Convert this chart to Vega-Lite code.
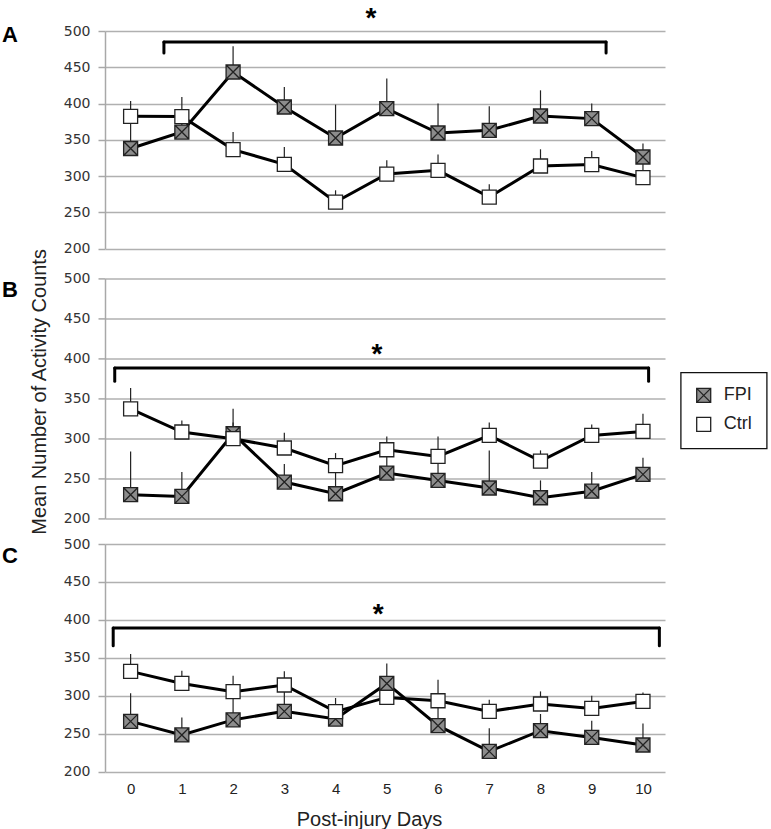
{
  "$schema": "https://vega.github.io/schema/vega-lite/v6.json",
  "padding": {"left": 2, "top": 4, "right": 0, "bottom": 0},
  "bounds": "flush",
  "spacing": 29.4,
  "background": "white",
  "config": {
    "view": {"stroke": null},
    "font": "Liberation Sans",
    "axisY": {"domainColor": "#a8a8a8", "domainWidth": 1.5, "gridColor": "#b0b0b0", "gridWidth": 1.5, "tickColor": "#a8a8a8", "tickWidth": 1.5, "tickSize": 7, "labelPadding": 8, "labelFont": "DejaVu Sans", "labelFontSize": 14, "labelColor": "#333", "tickCount": 7, "titleFont": "Liberation Sans", "titleFontSize": 20, "titleFontWeight": "normal", "titleColor": "#222", "titlePadding": 14},
    "axisX": {"ticks": false, "tickSize": 0, "domain": false, "grid": false, "labelFont": "Liberation Sans", "labelFontSize": 15, "labelColor": "#222", "labelPadding": 10, "titleFont": "Liberation Sans", "titleFontSize": 20, "titleFontWeight": "normal", "titleColor": "#222"},
    "legend": {"orient": "none", "legendX": 575.7, "legendY": 94, "strokeColor": "#111", "strokeWidth": 1.3, "fillColor": "white", "padding": 14, "labelFont": "Liberation Sans", "labelFontSize": 18, "labelColor": "#222", "symbolSize": 196, "symbolStrokeWidth": 1.3, "rowPadding": 9, "labelOffset": 11}
  },
  "datasets": {
    "series": [
      {"panel": "A", "group": "FPI", "day": 0, "mean": 338, "upper": 378},
      {"panel": "A", "group": "FPI", "day": 1, "mean": 360.7, "upper": 385},
      {"panel": "A", "group": "FPI", "day": 2, "mean": 443.5, "upper": 478.9},
      {"panel": "A", "group": "FPI", "day": 3, "mean": 395.2, "upper": 422.8},
      {"panel": "A", "group": "FPI", "day": 4, "mean": 352.5, "upper": 398.5},
      {"panel": "A", "group": "FPI", "day": 5, "mean": 393, "upper": 434.4},
      {"panel": "A", "group": "FPI", "day": 6, "mean": 359.4, "upper": 399.9},
      {"panel": "A", "group": "FPI", "day": 7, "mean": 363.1, "upper": 396.2},
      {"panel": "A", "group": "FPI", "day": 8, "mean": 382.8, "upper": 418.2},
      {"panel": "A", "group": "FPI", "day": 9, "mean": 379.2, "upper": 399.9},
      {"panel": "A", "group": "FPI", "day": 10, "mean": 326.3, "upper": 344.8},
      {"panel": "A", "group": "Ctrl", "day": 0, "mean": 382.4, "upper": 403.5},
      {"panel": "A", "group": "Ctrl", "day": 1, "mean": 382, "upper": 409},
      {"panel": "A", "group": "Ctrl", "day": 2, "mean": 336.5, "upper": 360.7},
      {"panel": "A", "group": "Ctrl", "day": 3, "mean": 316.2, "upper": 340.1},
      {"panel": "A", "group": "Ctrl", "day": 4, "mean": 264.2, "upper": 280.4},
      {"panel": "A", "group": "Ctrl", "day": 5, "mean": 302.8, "upper": 321.7},
      {"panel": "A", "group": "Ctrl", "day": 6, "mean": 307.9, "upper": 329.6},
      {"panel": "A", "group": "Ctrl", "day": 7, "mean": 271.1, "upper": 288.6},
      {"panel": "A", "group": "Ctrl", "day": 8, "mean": 313.9, "upper": 336.9},
      {"panel": "A", "group": "Ctrl", "day": 9, "mean": 315.8, "upper": 334.6},
      {"panel": "A", "group": "Ctrl", "day": 10, "mean": 297.9, "upper": 318},
      {"panel": "B", "group": "FPI", "day": 0, "mean": 229.6, "upper": 283.7},
      {"panel": "B", "group": "FPI", "day": 1, "mean": 227.5, "upper": 258},
      {"panel": "B", "group": "FPI", "day": 2, "mean": 305.8, "upper": 337},
      {"panel": "B", "group": "FPI", "day": 3, "mean": 245.4, "upper": 268},
      {"panel": "B", "group": "FPI", "day": 4, "mean": 230.8, "upper": 262},
      {"panel": "B", "group": "FPI", "day": 5, "mean": 256.7, "upper": 277},
      {"panel": "B", "group": "FPI", "day": 6, "mean": 247.5, "upper": 272},
      {"panel": "B", "group": "FPI", "day": 7, "mean": 238, "upper": 285},
      {"panel": "B", "group": "FPI", "day": 8, "mean": 225.8, "upper": 247.5},
      {"panel": "B", "group": "FPI", "day": 9, "mean": 234, "upper": 258},
      {"panel": "B", "group": "FPI", "day": 10, "mean": 255, "upper": 275.8},
      {"panel": "B", "group": "Ctrl", "day": 0, "mean": 337, "upper": 362.9},
      {"panel": "B", "group": "Ctrl", "day": 1, "mean": 308, "upper": 322.5},
      {"panel": "B", "group": "Ctrl", "day": 2, "mean": 299.6, "upper": 320},
      {"panel": "B", "group": "Ctrl", "day": 3, "mean": 288, "upper": 307},
      {"panel": "B", "group": "Ctrl", "day": 4, "mean": 266, "upper": 281.7},
      {"panel": "B", "group": "Ctrl", "day": 5, "mean": 285.8, "upper": 302.5},
      {"panel": "B", "group": "Ctrl", "day": 6, "mean": 277.5, "upper": 302.5},
      {"panel": "B", "group": "Ctrl", "day": 7, "mean": 303.7, "upper": 320},
      {"panel": "B", "group": "Ctrl", "day": 8, "mean": 271.7, "upper": 285},
      {"panel": "B", "group": "Ctrl", "day": 9, "mean": 303.7, "upper": 317.5},
      {"panel": "B", "group": "Ctrl", "day": 10, "mean": 308.7, "upper": 330.8},
      {"panel": "C", "group": "FPI", "day": 0, "mean": 266.3, "upper": 303.2},
      {"panel": "C", "group": "FPI", "day": 1, "mean": 248.4, "upper": 271.5},
      {"panel": "C", "group": "FPI", "day": 2, "mean": 268.3, "upper": 300},
      {"panel": "C", "group": "FPI", "day": 3, "mean": 279.5, "upper": 305},
      {"panel": "C", "group": "FPI", "day": 4, "mean": 269.4, "upper": 282},
      {"panel": "C", "group": "FPI", "day": 5, "mean": 316.3, "upper": 342.7},
      {"panel": "C", "group": "FPI", "day": 6, "mean": 260.6, "upper": 290},
      {"panel": "C", "group": "FPI", "day": 7, "mean": 226.8, "upper": 257.1},
      {"panel": "C", "group": "FPI", "day": 8, "mean": 254, "upper": 276},
      {"panel": "C", "group": "FPI", "day": 9, "mean": 245.2, "upper": 267.2},
      {"panel": "C", "group": "FPI", "day": 10, "mean": 235.2, "upper": 263.6},
      {"panel": "C", "group": "Ctrl", "day": 0, "mean": 332.2, "upper": 355.1},
      {"panel": "C", "group": "Ctrl", "day": 1, "mean": 316.3, "upper": 333.1},
      {"panel": "C", "group": "Ctrl", "day": 2, "mean": 305.4, "upper": 326.5},
      {"panel": "C", "group": "Ctrl", "day": 3, "mean": 314.2, "upper": 332.2},
      {"panel": "C", "group": "Ctrl", "day": 4, "mean": 279.1, "upper": 297.1},
      {"panel": "C", "group": "Ctrl", "day": 5, "mean": 297.9, "upper": 310},
      {"panel": "C", "group": "Ctrl", "day": 6, "mean": 293.5, "upper": 321.2},
      {"panel": "C", "group": "Ctrl", "day": 7, "mean": 279.5, "upper": 294.9},
      {"panel": "C", "group": "Ctrl", "day": 8, "mean": 289.2, "upper": 305.8},
      {"panel": "C", "group": "Ctrl", "day": 9, "mean": 283.4, "upper": 300.1},
      {"panel": "C", "group": "Ctrl", "day": 10, "mean": 292.6, "upper": 304.5}
    ],
    "brackets": [
      {"panel": "A", "start": 0.65, "end": 9.28, "level": 484.8, "foot": 469.5},
      {"panel": "B", "start": -0.31, "end": 10.11, "level": 388, "foot": 371.5},
      {"panel": "C", "start": -0.34, "end": 10.32, "level": 389.3, "foot": 366}
    ],
    "stars": [
      {"panel": "A", "day": 4.69, "level": 506, "label": "*"},
      {"panel": "B", "day": 4.81, "level": 394.4, "label": "*"},
      {"panel": "C", "day": 4.83, "level": 396, "label": "*"}
    ]
  },
  "resolve": {"scale": {"fill": "independent", "shape": "independent", "stroke": "independent"}},
  "vconcat": [
    {
      "width": 560, "height": 217.6,
      "layer": [
        {"data": {"name": "series"}, "transform": [{"filter": "datum.panel === 'A'"}],
         "mark": {"type": "rule", "color": "#222", "strokeWidth": 1.2},
         "encoding": {
           "x": {"field": "day", "type": "quantitative", "scale": {"domain": [-0.5, 10.43], "nice": false, "zero": false}, "axis": null},
           "y": {"field": "mean", "type": "quantitative", "scale": {"domain": [200, 500], "nice": false, "zero": false}, "axis": {"title": null}},
           "y2": {"field": "upper"}, "detail": {"field": "group"}}},
        {"data": {"name": "series"}, "transform": [{"filter": "datum.panel === 'A'"}],
         "mark": {"type": "line", "color": "black", "strokeWidth": 3},
         "encoding": {
           "x": {"field": "day", "type": "quantitative", "axis": null},
           "y": {"field": "mean", "type": "quantitative", "axis": {"title": null}},
           "detail": {"field": "group"}, "order": {"field": "day"}}},
        {"data": {"name": "series"}, "transform": [{"filter": "datum.panel === 'A'"}],
         "mark": {"type": "point", "filled": false, "strokeWidth": 1.3, "opacity": 1, "size": 196},
         "encoding": {
           "x": {"field": "day", "type": "quantitative", "axis": null},
           "y": {"field": "mean", "type": "quantitative", "axis": {"title": null}},
           "shape": {"field": "group", "type": "nominal", "scale": {"domain": ["FPI", "Ctrl"], "range": ["M-1,-1H1V1H-1Z M-1,-1L1,1 M1,-1L-1,1", "square"]}, "legend": null},
           "fill": {"field": "group", "type": "nominal", "scale": {"domain": ["FPI", "Ctrl"], "range": ["#8c8c8c", "white"]}, "legend": null},
           "stroke": {"field": "group", "type": "nominal", "scale": {"domain": ["FPI", "Ctrl"], "range": ["#222", "#222"]}, "legend": null}}},
        {"data": {"name": "brackets"}, "transform": [{"filter": "datum.panel === 'A'"}],
         "mark": {"type": "rule", "color": "black", "strokeWidth": 3, "strokeCap": "round"},
         "encoding": {"x": {"field": "start", "type": "quantitative", "axis": null}, "x2": {"field": "end"}, "y": {"field": "level", "type": "quantitative", "axis": {"title": null}}}},
        {"data": {"name": "brackets"}, "transform": [{"filter": "datum.panel === 'A'"}],
         "mark": {"type": "rule", "color": "black", "strokeWidth": 3, "strokeCap": "round"},
         "encoding": {"x": {"field": "start", "type": "quantitative", "axis": null}, "y": {"field": "level", "type": "quantitative", "axis": {"title": null}}, "y2": {"field": "foot"}}},
        {"data": {"name": "brackets"}, "transform": [{"filter": "datum.panel === 'A'"}],
         "mark": {"type": "rule", "color": "black", "strokeWidth": 3, "strokeCap": "round"},
         "encoding": {"x": {"field": "end", "type": "quantitative", "axis": null}, "y": {"field": "level", "type": "quantitative", "axis": {"title": null}}, "y2": {"field": "foot"}}},
        {"data": {"name": "stars"}, "transform": [{"filter": "datum.panel === 'A'"}],
         "mark": {"type": "text", "font": "Liberation Sans", "fontSize": 28, "fontWeight": "bold", "align": "center", "baseline": "alphabetic", "color": "black"},
         "encoding": {"x": {"field": "day", "type": "quantitative", "axis": null}, "y": {"field": "level", "type": "quantitative", "axis": {"title": null}}, "text": {"field": "label"}}},
        {"data": {"values": [{"letter": "A"}]},
         "mark": {"type": "text", "font": "Liberation Sans", "fontSize": 22, "fontWeight": "bold", "align": "left", "baseline": "alphabetic", "color": "black"},
         "encoding": {"x": {"datum": -2.51, "type": "quantitative", "axis": null}, "y": {"datum": 484.4, "type": "quantitative", "axis": {"title": null}}, "text": {"field": "letter"}}}
      ]
    },
    {
      "bounds": "flush",
      "spacing": 25.6,
      "resolve": {"scale": {"fill": "independent", "shape": "independent", "stroke": "independent"}},
      "vconcat": [
        {
          "width": 560, "height": 240,
          "layer": [
            {"data": {"name": "series"}, "transform": [{"filter": "datum.panel === 'B'"}],
             "mark": {"type": "rule", "color": "#222", "strokeWidth": 1.2},
             "encoding": {
               "x": {"field": "day", "type": "quantitative", "scale": {"domain": [-0.5, 10.43], "nice": false, "zero": false}, "axis": null},
               "y": {"field": "mean", "type": "quantitative", "scale": {"domain": [200, 500], "nice": false, "zero": false}, "axis": {"title": "Mean Number of Activity Counts", "titleY": 113}},
               "y2": {"field": "upper"}, "detail": {"field": "group"}}},
            {"data": {"name": "series"}, "transform": [{"filter": "datum.panel === 'B'"}],
             "mark": {"type": "line", "color": "black", "strokeWidth": 3},
             "encoding": {
               "x": {"field": "day", "type": "quantitative", "axis": null},
               "y": {"field": "mean", "type": "quantitative", "axis": {"title": "Mean Number of Activity Counts", "titleY": 113}},
               "detail": {"field": "group"}, "order": {"field": "day"}}},
            {"data": {"name": "series"}, "transform": [{"filter": "datum.panel === 'B'"}],
             "mark": {"type": "point", "filled": false, "strokeWidth": 1.3, "opacity": 1, "size": 196},
             "encoding": {
               "x": {"field": "day", "type": "quantitative", "axis": null},
               "y": {"field": "mean", "type": "quantitative", "axis": {"title": "Mean Number of Activity Counts", "titleY": 113}},
               "shape": {"field": "group", "type": "nominal", "scale": {"domain": ["FPI", "Ctrl"], "range": ["M-1,-1H1V1H-1Z M-1,-1L1,1 M1,-1L-1,1", "square"]}, "legend": {"title": null}},
               "fill": {"field": "group", "type": "nominal", "scale": {"domain": ["FPI", "Ctrl"], "range": ["#8c8c8c", "white"]}, "legend": {"title": null}},
               "stroke": {"field": "group", "type": "nominal", "scale": {"domain": ["FPI", "Ctrl"], "range": ["#222", "#222"]}, "legend": {"title": null}}}},
            {"data": {"name": "brackets"}, "transform": [{"filter": "datum.panel === 'B'"}],
             "mark": {"type": "rule", "color": "black", "strokeWidth": 3, "strokeCap": "round"},
             "encoding": {"x": {"field": "start", "type": "quantitative", "axis": null}, "x2": {"field": "end"}, "y": {"field": "level", "type": "quantitative", "axis": {"title": "Mean Number of Activity Counts", "titleY": 113}}}},
            {"data": {"name": "brackets"}, "transform": [{"filter": "datum.panel === 'B'"}],
             "mark": {"type": "rule", "color": "black", "strokeWidth": 3, "strokeCap": "round"},
             "encoding": {"x": {"field": "start", "type": "quantitative", "axis": null}, "y": {"field": "level", "type": "quantitative", "axis": {"title": "Mean Number of Activity Counts", "titleY": 113}}, "y2": {"field": "foot"}}},
            {"data": {"name": "brackets"}, "transform": [{"filter": "datum.panel === 'B'"}],
             "mark": {"type": "rule", "color": "black", "strokeWidth": 3, "strokeCap": "round"},
             "encoding": {"x": {"field": "end", "type": "quantitative", "axis": null}, "y": {"field": "level", "type": "quantitative", "axis": {"title": "Mean Number of Activity Counts", "titleY": 113}}, "y2": {"field": "foot"}}},
            {"data": {"name": "stars"}, "transform": [{"filter": "datum.panel === 'B'"}],
             "mark": {"type": "text", "font": "Liberation Sans", "fontSize": 28, "fontWeight": "bold", "align": "center", "baseline": "alphabetic", "color": "black"},
             "encoding": {"x": {"field": "day", "type": "quantitative", "axis": null}, "y": {"field": "level", "type": "quantitative", "axis": {"title": "Mean Number of Activity Counts", "titleY": 113}}, "text": {"field": "label"}}},
            {"data": {"values": [{"letter": "B"}]},
             "mark": {"type": "text", "font": "Liberation Sans", "fontSize": 22, "fontWeight": "bold", "align": "left", "baseline": "alphabetic", "color": "black"},
             "encoding": {"x": {"datum": -2.51, "type": "quantitative", "axis": null}, "y": {"datum": 477, "type": "quantitative", "axis": {"title": "Mean Number of Activity Counts", "titleY": 113}}, "text": {"field": "letter"}}}
          ]
        },
        {
          "width": 560, "height": 227.7,
          "layer": [
            {"data": {"name": "series"}, "transform": [{"filter": "datum.panel === 'C'"}],
             "mark": {"type": "rule", "color": "#222", "strokeWidth": 1.2},
             "encoding": {
               "x": {"field": "day", "type": "quantitative", "scale": {"domain": [-0.5, 10.43], "nice": false, "zero": false}, "axis": {"values": [0, 1, 2, 3, 4, 5, 6, 7, 8, 9, 10], "format": "d", "title": "Post-injury Days", "titleX": 264, "titleY": 54, "titleBaseline": "alphabetic", "titleAlign": "center"}},
               "y": {"field": "mean", "type": "quantitative", "scale": {"domain": [200, 500], "nice": false, "zero": false}, "axis": {"title": null}},
               "y2": {"field": "upper"}, "detail": {"field": "group"}}},
            {"data": {"name": "series"}, "transform": [{"filter": "datum.panel === 'C'"}],
             "mark": {"type": "line", "color": "black", "strokeWidth": 3},
             "encoding": {
               "x": {"field": "day", "type": "quantitative", "axis": {"values": [0, 1, 2, 3, 4, 5, 6, 7, 8, 9, 10], "format": "d", "title": "Post-injury Days", "titleX": 264, "titleY": 54, "titleBaseline": "alphabetic", "titleAlign": "center"}},
               "y": {"field": "mean", "type": "quantitative", "axis": {"title": null}},
               "detail": {"field": "group"}, "order": {"field": "day"}}},
            {"data": {"name": "series"}, "transform": [{"filter": "datum.panel === 'C'"}],
             "mark": {"type": "point", "filled": false, "strokeWidth": 1.3, "opacity": 1, "size": 196},
             "encoding": {
               "x": {"field": "day", "type": "quantitative", "axis": {"values": [0, 1, 2, 3, 4, 5, 6, 7, 8, 9, 10], "format": "d", "title": "Post-injury Days", "titleX": 264, "titleY": 54, "titleBaseline": "alphabetic", "titleAlign": "center"}},
               "y": {"field": "mean", "type": "quantitative", "axis": {"title": null}},
               "shape": {"field": "group", "type": "nominal", "scale": {"domain": ["FPI", "Ctrl"], "range": ["M-1,-1H1V1H-1Z M-1,-1L1,1 M1,-1L-1,1", "square"]}, "legend": null},
               "fill": {"field": "group", "type": "nominal", "scale": {"domain": ["FPI", "Ctrl"], "range": ["#8c8c8c", "white"]}, "legend": null},
               "stroke": {"field": "group", "type": "nominal", "scale": {"domain": ["FPI", "Ctrl"], "range": ["#222", "#222"]}, "legend": null}}},
            {"data": {"name": "brackets"}, "transform": [{"filter": "datum.panel === 'C'"}],
             "mark": {"type": "rule", "color": "black", "strokeWidth": 3, "strokeCap": "round"},
             "encoding": {"x": {"field": "start", "type": "quantitative", "axis": {"values": [0, 1, 2, 3, 4, 5, 6, 7, 8, 9, 10], "format": "d", "title": "Post-injury Days", "titleX": 264, "titleY": 54, "titleBaseline": "alphabetic", "titleAlign": "center"}}, "x2": {"field": "end"}, "y": {"field": "level", "type": "quantitative", "axis": {"title": null}}}},
            {"data": {"name": "brackets"}, "transform": [{"filter": "datum.panel === 'C'"}],
             "mark": {"type": "rule", "color": "black", "strokeWidth": 3, "strokeCap": "round"},
             "encoding": {"x": {"field": "start", "type": "quantitative", "axis": {"values": [0, 1, 2, 3, 4, 5, 6, 7, 8, 9, 10], "format": "d", "title": "Post-injury Days", "titleX": 264, "titleY": 54, "titleBaseline": "alphabetic", "titleAlign": "center"}}, "y": {"field": "level", "type": "quantitative", "axis": {"title": null}}, "y2": {"field": "foot"}}},
            {"data": {"name": "brackets"}, "transform": [{"filter": "datum.panel === 'C'"}],
             "mark": {"type": "rule", "color": "black", "strokeWidth": 3, "strokeCap": "round"},
             "encoding": {"x": {"field": "end", "type": "quantitative", "axis": {"values": [0, 1, 2, 3, 4, 5, 6, 7, 8, 9, 10], "format": "d", "title": "Post-injury Days", "titleX": 264, "titleY": 54, "titleBaseline": "alphabetic", "titleAlign": "center"}}, "y": {"field": "level", "type": "quantitative", "axis": {"title": null}}, "y2": {"field": "foot"}}},
            {"data": {"name": "stars"}, "transform": [{"filter": "datum.panel === 'C'"}],
             "mark": {"type": "text", "font": "Liberation Sans", "fontSize": 28, "fontWeight": "bold", "align": "center", "baseline": "alphabetic", "color": "black"},
             "encoding": {"x": {"field": "day", "type": "quantitative", "axis": {"values": [0, 1, 2, 3, 4, 5, 6, 7, 8, 9, 10], "format": "d", "title": "Post-injury Days", "titleX": 264, "titleY": 54, "titleBaseline": "alphabetic", "titleAlign": "center"}}, "y": {"field": "level", "type": "quantitative", "axis": {"title": null}}, "text": {"field": "label"}}},
            {"data": {"values": [{"letter": "C"}]},
             "mark": {"type": "text", "font": "Liberation Sans", "fontSize": 22, "fontWeight": "bold", "align": "left", "baseline": "alphabetic", "color": "black"},
             "encoding": {"x": {"datum": -2.51, "type": "quantitative", "axis": {"values": [0, 1, 2, 3, 4, 5, 6, 7, 8, 9, 10], "format": "d", "title": "Post-injury Days", "titleX": 264, "titleY": 54, "titleBaseline": "alphabetic", "titleAlign": "center"}}, "y": {"datum": 475, "type": "quantitative", "axis": {"title": null}}, "text": {"field": "letter"}}}
          ]
        }
      ]
    }
  ]
}
